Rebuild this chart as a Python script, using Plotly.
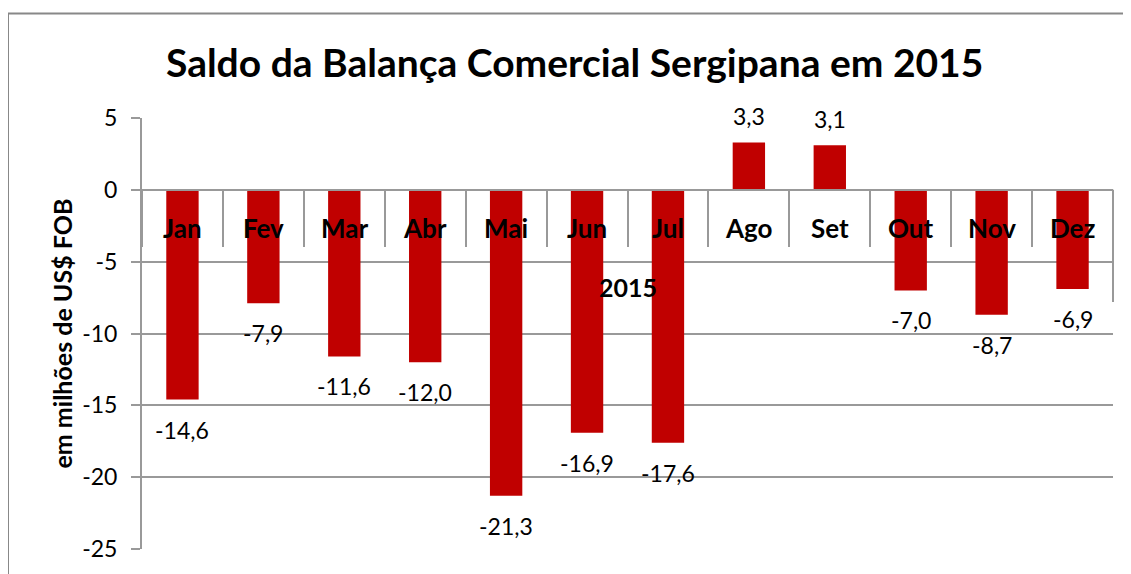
import plotly.graph_objects as go

months = ["Jan", "Fev", "Mar", "Abr", "Mai", "Jun", "Jul", "Ago", "Set", "Out", "Nov", "Dez"]
saldo = [-14.6, -7.9, -11.6, -12.0, -21.3, -16.9, -17.6, 3.3, 3.1, -7.0, -8.7, -6.9]
y_ticks = [5, 0, -5, -10, -15, -20, -25]
title_text = "Saldo da Balança Comercial Sergipana em 2015"
y_title = "em milhões de US$ FOB"
x_title = "2015"

# page has an 8px body margin; figure sized to fit the 1131x574 window
OFF = 8
W, H = 1131 - OFF, 574 - OFF
ML, MT = 142 - OFF, 118 - OFF
MR = W - (1113 - OFF)
MB = H - (555 - OFF)
pw, ph = W - ML - MR, H - MT - MB

ymin, ymax = min(y_ticks), max(y_ticks)
zero_pos = (0 - ymin) / (ymax - ymin)

GRID = "#999999"
FONT = "Lato"


def px_x(page_x):
    return (page_x - OFF - ML) / pw


def px_y(page_y):
    return (H - MB - (page_y - OFF)) / ph


fig = go.Figure()
fig.add_trace(go.Bar(
    x=months, y=saldo,
    marker=dict(color="#C00000", line=dict(width=0)),
    width=0.4,
    hoverinfo="skip",
))

annotations = []
for m, v in zip(months, saldo):
    annotations.append(dict(
        x=m, y=v, xref="x", yref="y", showarrow=False,
        text=f"{v:.1f}".replace(".", ","),
        yshift=26 if v > 0 else -30,
        xanchor="center", yanchor="middle",
        font=dict(family=FONT, size=23, color="#000000"),
    ))
    annotations.append(dict(
        x=m, y=0, xref="x", yref="y", showarrow=False,
        text=f"<b>{m}</b>", yshift=-38,
        xanchor="center", yanchor="middle",
        font=dict(family=FONT, size=26, color="#000000"),
    ))

annotations.append(dict(
    x=0.5, y=0, xref="paper", yref="y", showarrow=False,
    text=f"<b>{x_title}</b>", yshift=-97,
    xanchor="center", yanchor="middle",
    font=dict(family=FONT, size=25, color="#000000"),
))
annotations.append(dict(
    x=px_x(61), y=0.5, xref="paper", yref="paper", showarrow=False,
    text=f"<b>{y_title}</b>", textangle=-90,
    xanchor="center", yanchor="middle",
    font=dict(family=FONT, size=25, color="#000000"),
))
annotations.append(dict(
    x=px_x(574), y=px_y(61), xref="paper", yref="paper", showarrow=False,
    text=f"<b>{title_text}</b>",
    xanchor="center", yanchor="middle",
    font=dict(family=FONT, size=39, color="#000000"),
))

shapes = [
    dict(type="rect", xref="paper", yref="paper",
         x0=px_x(8), x1=px_x(1160),
         y0=px_y(600), y1=px_y(12),
         line=dict(color="#888888", width=2), fillcolor="rgba(0,0,0,0)", layer="below"),
    dict(type="line", xref="paper", yref="y", x0=1, x1=1, y0=0, y1=-7.8,
         line=dict(color=GRID, width=2)),
]

fig.update_layout(
    width=W, height=H,
    margin=dict(l=ML, r=MR, t=MT, b=MB, pad=0),
    paper_bgcolor="white", plot_bgcolor="white",
    showlegend=False,
    font=dict(family=FONT, color="#000000"),
    annotations=annotations,
    shapes=shapes,
    xaxis=dict(
        type="category", range=[-0.5, len(months) - 0.5],
        anchor="free", position=zero_pos,
        showline=True, linecolor=GRID, linewidth=2,
        ticks="outside", tickson="boundaries", ticklen=56, tickwidth=2, tickcolor=GRID,
        showticklabels=False, showgrid=False, zeroline=False,
    ),
    yaxis=dict(
        range=[ymin, ymax], tickvals=y_ticks, ticktext=[str(t) for t in y_ticks],
        showline=True, linecolor=GRID, linewidth=2,
        ticks="outside", ticklen=9, tickwidth=2, tickcolor=GRID,
        showgrid=True, gridcolor=GRID, gridwidth=2, zeroline=False,
        tickfont=dict(family=FONT, size=23, color="#000000"),
        ticklabelstandoff=9,
    ),
)

fig.write_html("out.html")
